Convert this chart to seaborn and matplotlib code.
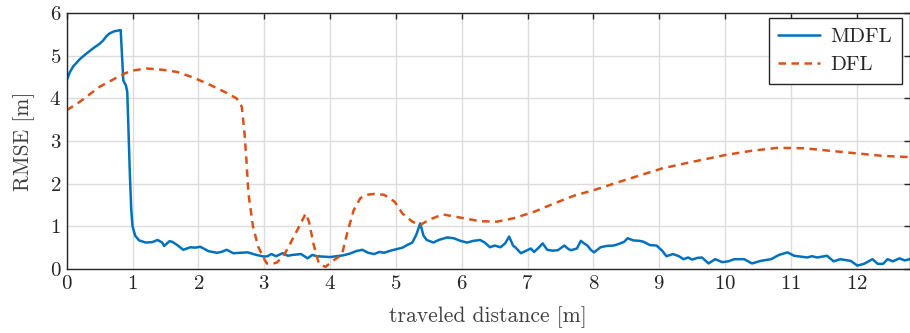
import matplotlib
matplotlib.use("Agg")
import matplotlib.pyplot as plt
import seaborn as sns
import pandas as pd

# --- values ---
mdfl_x = [0, 0.05, 0.1, 0.2, 0.3, 0.4, 0.5, 0.55, 0.6, 0.65, 0.72, 0.82, 0.84, 0.86, 0.9,
          0.92, 0.94, 0.96, 0.98, 1.0, 1.04, 1.1, 1.2, 1.3, 1.38, 1.45, 1.48, 1.56, 1.6, 1.68,
          1.77, 1.88, 1.95, 2.03, 2.08, 2.15, 2.28, 2.35, 2.43, 2.53, 2.65, 2.75, 2.88, 3.0,
          3.05, 3.11, 3.18, 3.28, 3.36, 3.43, 3.56, 3.66, 3.73, 3.8, 3.9, 4.0, 4.1, 4.2, 4.3,
          4.4, 4.49, 4.58, 4.67, 4.75, 4.82, 4.92, 5.0, 5.1, 5.17, 5.25, 5.31, 5.37, 5.42,
          5.47, 5.57, 5.65, 5.78, 5.88, 5.98, 6.08, 6.18, 6.28, 6.35, 6.43, 6.5, 6.59, 6.66,
          6.72, 6.78, 6.82, 6.9, 6.97, 7.05, 7.1, 7.17, 7.23, 7.3, 7.38, 7.46, 7.56, 7.62,
          7.66, 7.75, 7.81, 7.86, 7.91, 7.96, 8.01, 8.11, 8.2, 8.31, 8.41, 8.47, 8.52, 8.61,
          8.7, 8.76, 8.86, 8.96, 9.05, 9.11, 9.21, 9.3, 9.37, 9.44, 9.5, 9.58, 9.65, 9.75,
          9.85, 9.96, 10.05, 10.14, 10.29, 10.41, 10.54, 10.7, 10.82, 10.95, 11.05, 11.15,
          11.25, 11.32, 11.4, 11.55, 11.65, 11.75, 11.91, 12.01, 12.11, 12.24, 12.32, 12.4,
          12.47, 12.55, 12.65, 12.73, 12.85]
mdfl_y = [4.42, 4.62, 4.75, 4.92, 5.05, 5.17, 5.28, 5.35, 5.45, 5.52, 5.57, 5.6, 5.0, 4.42, 4.3,
          4.15, 3.2, 2.2, 1.4, 1.0, 0.78, 0.67, 0.62, 0.63, 0.68, 0.62, 0.54, 0.65, 0.64, 0.56,
          0.45, 0.51, 0.5, 0.52, 0.48, 0.42, 0.38, 0.4, 0.45, 0.37, 0.38, 0.39, 0.33, 0.29,
          0.3, 0.35, 0.3, 0.37, 0.31, 0.33, 0.35, 0.25, 0.33, 0.3, 0.29, 0.28, 0.3, 0.32, 0.36,
          0.42, 0.45, 0.38, 0.35, 0.4, 0.38, 0.43, 0.46, 0.5, 0.56, 0.62, 0.8, 1.07, 0.78,
          0.68, 0.62, 0.68, 0.74, 0.72, 0.66, 0.62, 0.66, 0.68, 0.62, 0.51, 0.55, 0.51, 0.6,
          0.76, 0.55, 0.5, 0.37, 0.42, 0.48, 0.4, 0.5, 0.6, 0.45, 0.43, 0.44, 0.55, 0.47,
          0.44, 0.48, 0.66, 0.6, 0.55, 0.45, 0.39, 0.51, 0.54, 0.55, 0.6, 0.64, 0.72, 0.67,
          0.66, 0.64, 0.56, 0.55, 0.42, 0.3, 0.35, 0.3, 0.23, 0.27, 0.22, 0.26, 0.27, 0.13,
          0.23, 0.16, 0.18, 0.23, 0.23, 0.13, 0.19, 0.23, 0.33, 0.39, 0.31, 0.29,
          0.27, 0.3, 0.27, 0.31, 0.18, 0.23, 0.19, 0.08, 0.12, 0.23, 0.12, 0.12,
          0.23, 0.18, 0.25, 0.2, 0.25]

dfl_x = [0, 0.2, 0.5, 0.86, 1.0, 1.21, 1.45, 1.67, 1.9, 2.13, 2.4, 2.58, 2.66, 2.7, 2.73,
         2.76, 2.83, 2.91, 2.99, 3.04, 3.12, 3.19, 3.29, 3.37, 3.45, 3.55, 3.63, 3.68, 3.75,
         3.83, 3.93, 4.06, 4.18, 4.26, 4.36, 4.46, 4.56, 4.67, 4.82, 4.98, 5.1, 5.25, 5.37,
         5.5, 5.71, 5.96, 6.28, 6.54, 6.79, 7.1, 7.41, 7.71, 8.01, 8.49, 9.05, 9.5, 10.0,
         10.4, 10.8, 11.2, 11.6, 12.0, 12.4, 12.85]
dfl_y = [3.72, 3.92, 4.27, 4.57, 4.65, 4.7, 4.67, 4.62, 4.5, 4.35, 4.15, 4.0, 3.8, 3.2, 2.55,
         1.78, 0.99, 0.52, 0.26, 0.13, 0.12, 0.15, 0.3, 0.52, 0.76, 1.05, 1.3, 1.11, 0.58,
         0.13, 0.05, 0.21, 0.33, 0.84, 1.38, 1.66, 1.74, 1.76, 1.74, 1.58, 1.3, 1.11, 1.03,
         1.15, 1.28, 1.21, 1.12, 1.11, 1.19, 1.34, 1.54, 1.72, 1.85, 2.09, 2.36, 2.51, 2.67,
         2.77, 2.84, 2.83, 2.77, 2.71, 2.65, 2.62]

x_ticks = list(range(0, 13))
y_ticks = list(range(0, 7))

df = pd.concat([
    pd.DataFrame({"x": mdfl_x, "y": mdfl_y, "method": "MDFL"}),
    pd.DataFrame({"x": dfl_x, "y": dfl_y, "method": "DFL"}),
])

sns.set_theme(style="whitegrid")
plt.rcParams["font.family"] = ["cmr10", "DejaVu Serif"]
plt.rcParams["mathtext.fontset"] = "cm"
plt.rcParams["axes.formatter.use_mathtext"] = True

fig = plt.figure(figsize=(9.1, 3.33), dpi=100)
ax = fig.add_axes([66.7 / 910, 64 / 333, (910 - 66.7) / 910, 256 / 333])

sns.lineplot(data=df, x="x", y="y", hue="method", style="method",
             palette={"MDFL": "#0072BD", "DFL": "#D95319"},
             dashes={"MDFL": "", "DFL": (3.0, 2.2)},
             linewidth=1.8, sort=False, estimator=None, ax=ax)

ax.set_xlim(0, 12.81)
ax.set_ylim(0, 6)
ax.set_xticks(x_ticks)
ax.set_yticks(y_ticks)
ax.grid(True, color="#dcdcdc", linewidth=1.0)
ax.tick_params(direction="in", length=4, width=1.0, color="#262626",
               top=True, right=True, labelsize=15, pad=4, labelcolor="#262626")
for s in ax.spines.values():
    s.set_color("#262626")
    s.set_linewidth(1.0)

ax.set_xlabel("traveled distance [m]", fontsize=15.5, color="#404040", labelpad=10)
ax.set_ylabel("RMSE [m]", fontsize=15.5, color="#404040", labelpad=10)

ax.legend(loc="upper right", bbox_to_anchor=(0.990, 0.979), borderaxespad=0,
          frameon=True, fancybox=False, framealpha=1, edgecolor="#262626",
          fontsize=15, handlelength=2.0, borderpad=0.45, labelspacing=0.45,
          handletextpad=0.5, title=None)

fig.savefig("out.png", dpi=100)
